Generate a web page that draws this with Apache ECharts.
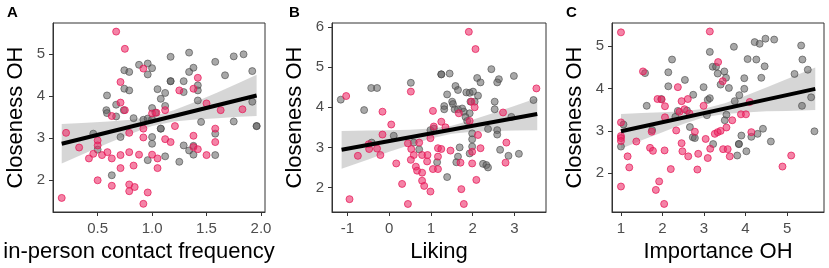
<!DOCTYPE html>
<html><head><meta charset="utf-8">
<script src="https://cdn.jsdelivr.net/npm/echarts@6/dist/echarts.min.js"></script>
<style>html,body{margin:0;padding:0;background:#fff}#c{width:829px;height:268px}</style>
</head><body><div id="c"></div>
<script>
// ---------- text ----------
const panelLetters = ['A', 'B', 'C'];
const xNames = ['in-person contact frequency', 'Liking', 'Importance OH'];
const yName = 'Closeness OH';

// ---------- tick labels ----------
const aXTicks = [0.5, 1.0, 1.5, 2.0];
const aYTicks = [2, 3, 4, 5];
const bXTicks = [-1, 0, 1, 2, 3];
const bYTicks = [2, 3, 4, 5, 6];
const cXTicks = [1, 2, 3, 4, 5];
const cYTicks = [2, 3, 4, 5];

// ---------- panel A: in-person contact frequency ----------
const aGrey = [[0.586,4.02],[0.58,3.67],[0.586,3.60],[0.67,3.80],[0.74,3.67],[0.745,4.62],[0.79,4.58],[0.745,4.18],[0.79,4.14],[0.88,4.75],[0.96,4.78],[1.0,4.67],[0.96,4.52],[0.83,3.48],[0.92,3.44],[0.96,3.47],[1.0,3.72],[1.03,3.61],[1.05,4.17],[1.08,3.94],[1.12,4.08],[1.17,4.36],[1.17,4.36],[1.17,4.94],[1.12,3.77],[1.29,4.36],[1.34,5.04],[1.38,4.68],[1.34,4.58],[1.29,4.10],[1.42,4.26],[1.42,4.14],[1.42,3.90],[1.58,4.82],[1.67,4.50],[1.75,4.95],[1.84,5.0],[1.92,4.60],[1.92,3.87],[1.75,3.40],[1.96,3.29],[1.96,3.29],[1.45,3.39],[1.58,3.11],[1.58,2.60],[1.29,2.83],[1.34,2.71],[1.38,2.82],[1.38,2.61],[1.25,2.44],[1.12,2.57],[1.08,3.23],[1.08,3.23],[1.0,3.03],[1.0,2.87],[0.96,2.48],[0.71,3.03],[0.46,3.11],[0.5,2.73],[0.63,2.12],[0.67,3.52],[1.0,3.45]];
const aPink = [[0.67,5.54],[0.75,5.13],[0.92,4.66],[0.71,4.34],[0.71,3.85],[0.75,3.67],[0.63,3.53],[0.21,3.13],[0.33,2.78],[0.5,2.95],[0.5,2.83],[0.42,2.52],[0.46,2.63],[0.54,2.60],[0.59,2.67],[0.63,2.52],[0.71,2.60],[0.79,2.67],[0.88,2.61],[1.0,2.61],[1.05,2.52],[0.50,2.0],[0.63,1.87],[0.71,2.29],[0.83,2.35],[0.79,1.9],[0.79,1.74],[0.84,1.84],[0.96,1.71],[0.92,1.44],[0.17,1.58],[0.79,3.13],[0.92,3.23],[0.92,3.02],[1.0,3.59],[1.04,3.61],[1.12,3.67],[1.21,3.29],[1.25,4.14],[1.38,4.18],[1.42,4.44],[1.50,3.83],[1.63,3.67],[1.83,3.69],[1.58,3.23],[1.58,2.91],[1.38,3.06],[1.38,2.79],[1.42,2.74],[1.50,2.60],[1.12,2.98],[1.17,2.91],[1.05,2.29]];
const aFitX = [0.17, 1.96];
const aFitY = [2.87, 4.02];
const aBandX  = [0.17, 0.4, 0.6, 0.8, 1.0, 1.2, 1.4, 1.6, 1.8, 1.96];
const aBandHi = [3.34, 3.37, 3.40, 3.44, 3.52, 3.67, 3.87, 4.09, 4.32, 4.51];
const aBandLo = [2.40, 2.66, 2.89, 3.10, 3.29, 3.40, 3.45, 3.48, 3.51, 3.53];

// ---------- panel B: Liking ----------
const bGrey = [[-1.16,4.19],[-0.6,3.93],[-0.43,4.48],[-0.29,4.48],[0.11,3.29],[-0.42,3.12],[0.52,4.61],[1.25,4.82],[1.25,4.82],[1.45,4.84],[0.59,3.12],[0.72,2.95],[0.99,3.43],[1.07,3.47],[1.15,2.63],[1.59,4.53],[1.65,4.43],[1.39,4.32],[1.32,4.03],[1.32,3.95],[1.51,4.14],[1.53,4.08],[1.57,3.95],[1.65,3.95],[1.75,3.97],[1.79,3.89],[1.85,4.37],[1.93,4.36],[2.01,4.39],[2.13,4.29],[2.05,4.14],[1.95,4.14],[1.93,3.85],[1.87,3.66],[1.83,3.76],[1.99,3.35],[1.99,3.20],[1.99,3.02],[1.93,2.85],[1.69,3.0],[1.65,2.77],[1.61,2.63],[1.39,2.26],[2.11,4.73],[2.19,4.62],[2.45,4.95],[2.63,4.70],[2.59,4.62],[2.99,4.78],[2.53,4.14],[2.53,3.95],[2.37,3.46],[2.59,3.43],[2.59,3.32],[2.93,3.76],[2.66,2.94],[2.86,2.79],[3.11,2.84],[3.46,4.18],[2.25,2.59],[2.33,2.56],[2.37,2.50]];
const bPink = [[-1.03,4.28],[-0.95,1.71],[-0.16,3.89],[0.05,3.57],[-0.16,3.32],[-0.49,3.08],[-0.48,2.96],[-0.75,2.79],[-0.29,2.97],[-0.21,2.81],[0.17,2.60],[0.31,2.09],[0.45,1.59],[0.52,4.39],[0.45,3.10],[0.72,3.12],[0.53,2.96],[0.59,2.81],[0.52,2.69],[0.79,2.81],[0.92,2.81],[0.64,2.52],[0.67,2.42],[0.79,2.37],[0.91,2.65],[0.79,2.17],[0.84,2.04],[0.99,1.90],[1.07,3.52],[1.05,3.91],[0.99,3.23],[1.17,2.98],[1.05,2.46],[1.17,2.46],[1.17,2.77],[1.91,5.88],[2.07,5.45],[3.53,4.47],[1.97,4.14],[2.05,4.0],[1.67,3.85],[1.93,3.66],[1.25,3.64],[1.35,3.50],[2.73,3.87],[2.13,3.31],[1.25,2.96],[1.47,2.92],[1.99,2.89],[2.19,2.98],[2.81,3.12],[1.71,2.62],[1.99,2.60],[2.79,2.62],[2.09,2.19],[1.73,1.96],[1.79,1.59]];
const bFitX = [-1.14, 3.55];
const bFitY = [2.94, 3.83];
const bBandX  = [-1.14, -0.5, 0, 0.5, 1.0, 1.5, 2.0, 2.5, 3.0, 3.55];
const bBandHi = [3.41, 3.42, 3.43, 3.44, 3.47, 3.54, 3.69, 3.86, 4.03, 4.23];
const bBandLo = [2.47, 2.70, 2.89, 3.06, 3.22, 3.34, 3.39, 3.41, 3.42, 3.43];

// ---------- panel C: Importance OH ----------
const cGrey = [[1.0,2.63],[1.06,3.15],[1.58,4.36],[1.62,3.59],[2.14,4.05],[2.23,4.68],[2.14,4.38],[2.54,4.2],[2.74,3.85],[2.99,4.03],[2.31,3.33],[2.59,3.48],[2.66,3.09],[2.73,2.85],[2.78,2.83],[3.14,4.86],[3.21,4.51],[3.29,4.51],[3.33,4.35],[3.40,4.09],[3.49,4.40],[3.53,4.25],[3.60,4.01],[3.72,4.98],[3.74,3.70],[3.54,3.38],[3.50,3.25],[3.07,3.37],[3.22,2.69],[3.80,2.42],[3.84,2.69],[3.84,2.69],[3.90,2.89],[3.97,4.24],[3.97,3.99],[4.05,4.69],[3.85,3.84],[4.14,2.86],[4.02,2.52],[4.29,2.93],[4.42,3.05],[4.38,4.25],[4.46,4.52],[4.22,5.09],[4.34,5.05],[4.48,5.17],[4.26,4.68],[4.69,5.15],[4.61,2.75],[5.18,4.34],[5.34,5.01],[5.37,4.68],[5.50,4.44],[5.36,3.59],[5.58,3.79],[5.66,2.99],[1.97,3.75],[3.09,3.73],[3.14,3.77],[1.75,3.02],[2.37,3.47]];
const cPink = [[1.0,5.32],[3.14,5.34],[1.53,4.40],[3.34,4.62],[2.37,4.03],[3.45,4.17],[1.88,3.75],[1.98,3.74],[2.06,3.58],[2.46,3.70],[2.61,3.75],[2.41,3.45],[2.53,3.51],[2.65,3.41],[2.06,3.32],[2.99,3.59],[1.0,3.20],[1.0,2.88],[1.0,2.83],[1.0,2.76],[1.0,1.69],[1.16,2.40],[1.2,2.14],[1.37,2.75],[1.70,2.60],[1.77,2.53],[1.74,2.98],[2.05,2.54],[2.2,2.10],[1.84,1.61],[1.92,1.81],[2.04,1.28],[2.46,2.71],[2.48,2.52],[2.62,2.40],[2.33,3.01],[2.78,2.98],[2.86,2.46],[2.84,2.09],[3.04,2.81],[3.09,2.36],[3.15,2.58],[3.26,2.93],[3.33,2.97],[3.4,3.0],[3.46,2.57],[3.57,2.57],[3.54,3.08],[3.62,2.40],[3.68,3.25],[3.89,3.39],[4.01,3.39],[4.10,3.68],[4.14,2.97],[4.89,2.16],[5.10,2.42]];
const cFitX = [1.0, 5.68];
const cFitY = [2.99, 3.99];
const cBandX  = [1.0, 1.5, 2.0, 2.5, 3.0, 3.5, 4.0, 4.5, 5.0, 5.68];
const cBandHi = [3.40, 3.42, 3.44, 3.46, 3.52, 3.65, 3.83, 4.02, 4.22, 4.49];
const cBandLo = [2.58, 2.78, 2.97, 3.16, 3.32, 3.40, 3.43, 3.46, 3.47, 3.49];

// ---------- build ----------
const FONT = 'Liberation Sans, Arial, sans-serif';
const panels = [
  {grey:aGrey, pink:aPink, fx:aFitX, fy:aFitY, bx:aBandX, bh:aBandHi, bl:aBandLo, xt:aXTicks, yt:aYTicks,
   xr:[0.09,2.037], yr:[1.245,5.745], left:53, width:212, dec:1, namePad:[0,40,0,0]},
  {grey:bGrey, pink:bPink, fx:bFitX, fy:bFitY, bx:bBandX, bh:bBandHi, bl:bBandLo, xt:bXTicks, yt:bYTicks,
   xr:[-1.37,3.76], yr:[1.39,6.10], left:332, width:214, dec:0, namePad:[0,0,0,0]},
  {grey:cGrey, pink:cPink, fx:cFitX, fy:cFitY, bx:cBandX, bh:cBandHi, bl:cBandLo, xt:cXTicks, yt:cYTicks,
   xr:[0.784,5.89], yr:[1.09,5.54], left:612, width:212, dec:0, namePad:[0,0,0,0]}
];
const letterLeft = [7, 289, 566];

const grid = [], xAxis = [], yAxis = [], series = [], title = [];
panels.forEach((p, i) => {
  grid.push({left:p.left, top:23, width:p.width, height:189, show:true, borderColor:'#333', borderWidth:1, backgroundColor:'#fff', containLabel:false});
  const axisCommon = {
    axisLine:{show:true, onZero:false, lineStyle:{color:'#333', width:1}},
    splitLine:{show:false},
    nameTextStyle:{fontSize:22, color:'#000', fontFamily:FONT}
  };
  xAxis.push(Object.assign({}, axisCommon, {
    type:'value', gridIndex:i, min:p.xr[0], max:p.xr[1],
    name:xNames[i], nameLocation:'middle', nameGap:25,
    nameTextStyle:{fontSize:22, color:'#000', fontFamily:FONT, padding:p.namePad},
    axisTick:{show:true, length:4, lineStyle:{color:'#333'}, customValues:p.xt},
    axisLabel:{fontSize:15, color:'#4d4d4d', fontFamily:FONT, margin:9, customValues:p.xt,
      formatter:(v)=>Number(v).toFixed(p.dec)}
  }));
  yAxis.push(Object.assign({}, axisCommon, {
    type:'value', gridIndex:i, min:p.yr[0], max:p.yr[1],
    name:yName, nameLocation:'middle', nameGap:26,
    axisTick:{show:true, length:4, lineStyle:{color:'#333'}, customValues:p.yt},
    axisLabel:{fontSize:15, color:'#4d4d4d', fontFamily:FONT, margin:8, customValues:p.yt,
      formatter:(v)=>String(Math.round(v))}
  }));
  // confidence band
  series.push({
    type:'custom', coordinateSystem:'cartesian2d', xAxisIndex:i, yAxisIndex:i, silent:true, z:1,
    data:[[p.bx[0], p.bl[0]]],
    renderItem:(params, api)=>{
      const pts = [];
      for (let k=0;k<p.bx.length;k++) pts.push(api.coord([p.bx[k], p.bh[k]]));
      for (let k=p.bx.length-1;k>=0;k--) pts.push(api.coord([p.bx[k], p.bl[k]]));
      return {type:'polygon', shape:{points:pts}, style:{fill:'rgba(153,153,153,0.4)'}};
    }
  });
  series.push({type:'scatter', xAxisIndex:i, yAxisIndex:i, z:2, symbolSize:7, data:p.grey,
    itemStyle:{color:'rgba(95,95,95,0.68)', borderColor:'rgba(70,70,70,0.75)', borderWidth:1}});
  series.push({type:'scatter', xAxisIndex:i, yAxisIndex:i, z:2, symbolSize:7, data:p.pink,
    itemStyle:{color:'rgba(236,40,100,0.72)', borderColor:'rgba(228,22,86,0.9)', borderWidth:1}});
  series.push({type:'line', xAxisIndex:i, yAxisIndex:i, z:3, symbol:'none', silent:true,
    data:p.fx.map((x,k)=>[x, p.fy[k]]), lineStyle:{color:'#000', width:4}});
  title.push({text:panelLetters[i], left:letterLeft[i], top:5, padding:0,
    textStyle:{fontSize:15, fontWeight:'bold', color:'#000', fontFamily:FONT}});
});

const chart = echarts.init(document.getElementById('c'), null, {renderer:'canvas'});
chart.setOption({animation:false, backgroundColor:'#fff', title, grid, xAxis, yAxis, series});
</script></body></html>
